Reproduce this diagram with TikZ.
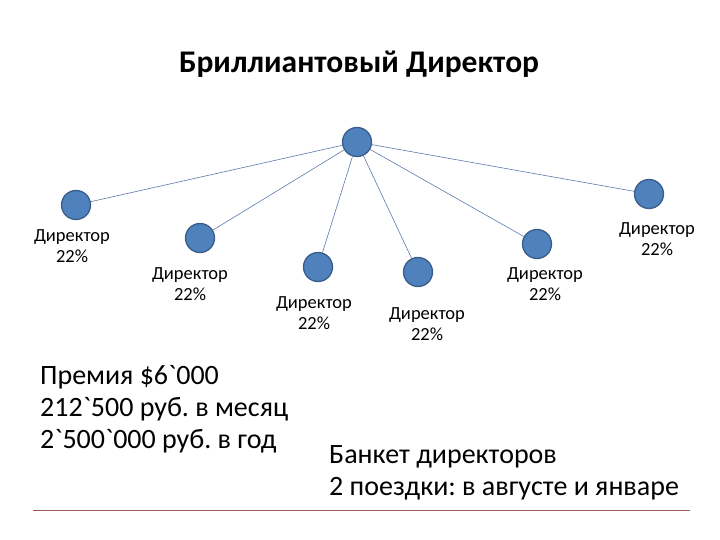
\documentclass[tikz,border=0pt]{standalone}
\usepackage{fontspec}
\setmainfont[Ligatures=TeXOff]{Carlito}
\frenchspacing
\definecolor{nodefill}{HTML}{4F81BD}
\definecolor{nodeedge}{HTML}{385D8A}
\definecolor{linkcol}{HTML}{5A7AA8}
\definecolor{rulecol}{HTML}{9E5A5A}
\begin{document}
\begin{tikzpicture}[x=1pt,y=-1pt,
  member/.style={circle,fill=nodefill,draw=nodeedge,line width=1.3pt,minimum size=29pt,inner sep=0pt},
  label/.style={align=center,inner sep=0pt,font=\fontsize{18.5}{21.5}\selectfont},
  link/.style={draw=linkcol,line width=0.6pt},
  bigline/.style={inner sep=0pt,anchor=base west,font=\fontsize{28}{32}\selectfont}]
\useasboundingbox (0,0) rectangle (720,540);
\node[inner sep=0pt,anchor=base,font=\fontsize{31.5}{36}\selectfont\bfseries] (title) at (359,73) {Бриллиантовый Директор};
\node[member] (top) at (357,142) {};
\node[member] (d1) at (76,205) {};
\node[member] (d2) at (200,238) {};
\node[member] (d3) at (318,267) {};
\node[member] (d4) at (418,272) {};
\node[member] (d5) at (537,244) {};
\node[member] (d6) at (649,194) {};
\foreach \n in {d1,d2,d3,d4,d5,d6} \draw[link] (top) -- (\n);
\node[label] (l1) at (72,246) {Директор\\22\%};
\node[label] (l2) at (190,284) {Директор\\22\%};
\node[label] (l3) at (314,313) {Директор\\22\%};
\node[label] (l4) at (427,324) {Директор\\22\%};
\node[label] (l5) at (545,284) {Директор\\22\%};
\node[label] (l6) at (657,239) {Директор\\22\%};
\node[bigline] (b1) at (40,384) {Премия \$6`000};
\node[bigline] (b2) at (40,416) {212`500 руб. в месяц};
\node[bigline] (b3) at (40,448) {2`500`000 руб. в год};
\node[bigline] (p1) at (329,463) {Банкет директоров};
\node[bigline] (p2) at (329,495) {2 поездки: в августе и январе};
\coordinate (r1) at (33,510);
\coordinate (r2) at (690,510);
\draw[rulecol,line width=0.8pt] (r1) -- (r2);
\end{tikzpicture}
\end{document}
